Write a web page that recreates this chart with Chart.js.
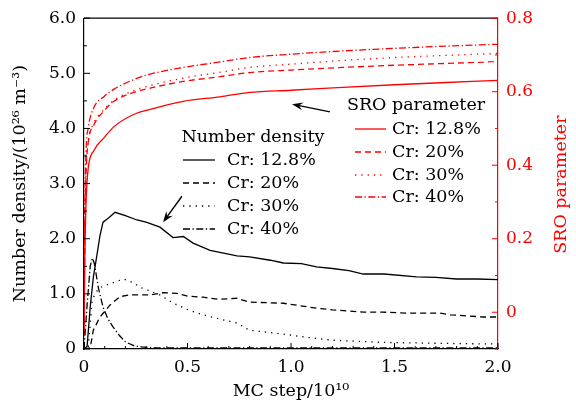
<!DOCTYPE html>
<html><head><meta charset="utf-8">
<script src="https://cdn.jsdelivr.net/npm/chart.js@4/dist/chart.umd.min.js"></script>
<style>html,body{margin:0;padding:0;background:#fff}</style>
</head><body>
<canvas id="c" width="576" height="403" style="width:576px;height:403px;display:block"></canvas>
<script>
const FONT = "'DejaVu Serif', serif";
const FS = 17.5;
const TFS = 17;

// ---- Number density (left axis, 10^26 m^-3) ----
const ndX128 = [0, 0.015, 0.03, 0.045, 0.061, 0.077, 0.092, 0.12, 0.15, 0.2, 0.256, 0.3, 0.367, 0.43, 0.48, 0.527, 0.609, 0.739, 0.8, 0.9, 0.963, 1.05, 1.124, 1.2, 1.28, 1.349, 1.45, 1.607, 1.7, 1.8, 1.9, 2.0];
const nd128  = [0, 0.05, 0.76, 1.3, 1.67, 2.05, 2.3, 2.38, 2.48, 2.42, 2.34, 2.30, 2.21, 2.02, 2.04, 1.92, 1.79, 1.69, 1.67, 1.61, 1.56, 1.55, 1.49, 1.46, 1.42, 1.36, 1.36, 1.31, 1.30, 1.27, 1.27, 1.26];
const ndX20  = [0, 0.03, 0.045, 0.077, 0.1, 0.126, 0.174, 0.22, 0.319, 0.38, 0.449, 0.5, 0.575, 0.65, 0.739, 0.8, 0.963, 1.124, 1.2, 1.35, 1.44, 1.57, 1.72, 1.77, 1.93, 2.0];
const nd20   = [0, 0.02, 0.34, 0.58, 0.68, 0.80, 0.95, 0.98, 0.98, 1.02, 1.01, 0.96, 0.94, 0.90, 0.92, 0.85, 0.83, 0.74, 0.71, 0.67, 0.67, 0.65, 0.65, 0.62, 0.58, 0.58];
const ndX30  = [0, 0.02, 0.04, 0.07, 0.1, 0.14, 0.19, 0.24, 0.27, 0.32, 0.367, 0.41, 0.449, 0.51, 0.575, 0.65, 0.739, 0.8, 0.963, 1.08, 1.2, 1.32, 1.44, 1.6, 1.77, 2.0];
const nd30   = [0, 0.0, 0.9, 1.1, 1.15, 1.2, 1.27, 1.2, 1.12, 1.05, 0.98, 0.88, 0.80, 0.70, 0.62, 0.55, 0.47, 0.34, 0.27, 0.21, 0.16, 0.14, 0.12, 0.11, 0.10, 0.09];
const ndX40  = [0, 0.015, 0.03, 0.04, 0.05, 0.07, 0.092, 0.115, 0.14, 0.17, 0.2, 0.24, 0.27, 0.35, 0.5, 1.0, 1.5, 2.0];
const nd40   = [0, 0.8, 1.5, 1.65, 1.55, 1.1, 0.76, 0.55, 0.40, 0.25, 0.13, 0.06, 0.04, 0.02, 0.02, 0.02, 0.02, 0.02];

// ---- SRO parameter (right axis) ----
const sroX   = [0, 0.004, 0.01, 0.02, 0.048, 0.097, 0.145, 0.24, 0.32, 0.48, 0.657, 0.8, 1.0, 1.25, 1.5, 1.75, 2.0];
const sro128 = [-0.06, 0.15, 0.30, 0.39, 0.44, 0.475, 0.505, 0.538, 0.552, 0.574, 0.586, 0.598, 0.604, 0.612, 0.619, 0.625, 0.631];
const sro20  = [-0.06, 0.22, 0.38, 0.46, 0.51, 0.548, 0.574, 0.598, 0.610, 0.628, 0.641, 0.652, 0.659, 0.666, 0.672, 0.677, 0.682];
const sro30  = [-0.06, 0.22, 0.38, 0.46, 0.515, 0.552, 0.577, 0.603, 0.617, 0.637, 0.653, 0.666, 0.675, 0.685, 0.693, 0.699, 0.704];
const sro40  = [-0.06, 0.28, 0.44, 0.50, 0.557, 0.587, 0.607, 0.633, 0.648, 0.666, 0.681, 0.693, 0.702, 0.711, 0.718, 0.724, 0.729];

const seriesLabels = ['Cr: 12.8%', 'Cr: 20%', 'Cr: 30%', 'Cr: 40%'];
const xTickLabels = ['0', '0.5', '1.0', '1.5', '2.0'];
const yTickLabels = ['0', '1.0', '2.0', '3.0', '4.0', '5.0', '6.0'];
const y1TickLabels = ['0', '0.2', '0.4', '0.6', '0.8'];

const DASHES = [[], [6, 4], [1.3, 5], [7, 2.5, 1.3, 2.5]];
const RED = '#ff0000';

function pts(xs, ys) { return xs.map((x, i) => ({x: x, y: ys[i]})); }

const ndSets = [[ndX128, nd128], [ndX20, nd20], [ndX30, nd30], [ndX40, nd40]];
const sroSets = [sro128, sro20, sro30, sro40];

const datasets = [];
ndSets.forEach((s, i) => datasets.push({
  label: 'ND ' + seriesLabels[i], data: pts(s[0], s[1]), yAxisID: 'y',
  borderColor: '#000', borderWidth: 1.3, borderDash: DASHES[i], pointRadius: 0, tension: 0, fill: false
}));
sroSets.forEach((s, i) => datasets.push({
  label: 'SRO ' + seriesLabels[i], data: pts(sroX, s), yAxisID: 'y1',
  borderColor: RED, borderWidth: 1.3, borderDash: DASHES[i], pointRadius: 0, cubicInterpolationMode: 'monotone', fill: false
}));

function near(v, list) { return list.find(l => Math.abs(parseFloat(l) - v) < 1e-6); }

const deco = {
  id: 'deco',
  afterDatasetsDraw(chart) {
    const ctx = chart.ctx, ca = chart.chartArea;
    const sx = chart.scales.x, sy = chart.scales.y, sy1 = chart.scales.y1;
    ctx.save();
    // top spine
    ctx.strokeStyle = '#000'; ctx.lineWidth = 1.2;
    ctx.beginPath(); ctx.moveTo(ca.left, ca.top); ctx.lineTo(ca.right, ca.top); ctx.stroke();
    // inward ticks
    function tick(x1, y1, x2, y2, col) { ctx.strokeStyle = col; ctx.beginPath(); ctx.moveTo(x1, y1); ctx.lineTo(x2, y2); ctx.stroke(); }
    ctx.lineWidth = 1;
    for (let i = 0; i <= 20; i++) {
      const v = i / 10, px = sx.getPixelForValue(v);
      const major = i % 5 === 0;
      tick(px, ca.bottom, px, ca.bottom - (major ? 6 : 3), '#000');
    }
    for (let i = 0; i <= 12; i++) {
      const v = i / 2, py = sy.getPixelForValue(v);
      tick(ca.left, py, ca.left + (i % 2 === 0 ? 6 : 3), py, '#000');
    }
    for (let i = -1; i <= 8; i++) {
      const v = i / 10, py = sy1.getPixelForValue(v);
      tick(ca.right, py, ca.right - (i % 2 === 0 ? 6 : 3), py, RED);
    }
    // axis titles
    ctx.fillStyle = '#000'; ctx.font = FS + 'px ' + FONT;
    ctx.textAlign = 'center'; ctx.textBaseline = 'middle';
    ctx.save(); ctx.translate(20, (ca.top + ca.bottom) / 2); ctx.rotate(-Math.PI / 2);
    ctx.fillText('Number density/(10²⁶ m⁻³)', 0, 0); ctx.restore();
    ctx.save(); ctx.fillStyle = RED; ctx.translate(561, (ca.top + ca.bottom) / 2 + 1); ctx.rotate(-Math.PI / 2);
    ctx.fillText('SRO parameter', 0, 0); ctx.restore();
    ctx.fillText('MC step/10¹⁰', (ca.left + ca.right) / 2, 391);
    // legends
    function legend(title, tx, ty, sx0, sx1, textX, rowY, color) {
      ctx.fillStyle = '#000'; ctx.textAlign = 'center'; ctx.fillText(title, tx, ty);
      ctx.textAlign = 'left';
      rowY.forEach((y, i) => {
        ctx.strokeStyle = color; ctx.lineWidth = 1.3; ctx.setLineDash(DASHES[i]);
        ctx.beginPath(); ctx.moveTo(sx0, y); ctx.lineTo(sx1, y); ctx.stroke(); ctx.setLineDash([]);
        ctx.fillStyle = '#000'; ctx.fillText(seriesLabels[i], textX, y);
      });
    }
    legend('Number density', 253, 137, 183, 215, 227, [160, 183, 206, 229], '#000');
    legend('SRO parameter', 416, 105, 355, 386, 392, [129, 152, 175, 197], RED);
    // arrows (data coords)
    function arrow(x0, y0, x1, y1) {
      const a = sx.getPixelForValue(x0), b = sy.getPixelForValue(y0);
      const c = sx.getPixelForValue(x1), d = sy.getPixelForValue(y1);
      const ang = Math.atan2(d - b, c - a), L = 11, W = 4;
      ctx.strokeStyle = '#000'; ctx.fillStyle = '#000'; ctx.lineWidth = 1.4;
      ctx.beginPath(); ctx.moveTo(a, b); ctx.lineTo(c - Math.cos(ang) * 6, d - Math.sin(ang) * 6); ctx.stroke();
      ctx.beginPath(); ctx.moveTo(c, d);
      ctx.lineTo(c - L * Math.cos(ang) + W * Math.sin(ang), d - L * Math.sin(ang) - W * Math.cos(ang));
      ctx.lineTo(c - 7 * Math.cos(ang), d - 7 * Math.sin(ang));
      ctx.lineTo(c - L * Math.cos(ang) - W * Math.sin(ang), d - L * Math.sin(ang) + W * Math.cos(ang));
      ctx.closePath(); ctx.fill();
    }
    arrow(1.188, 4.30, 1.005, 4.44);
    arrow(0.473, 2.77, 0.382, 2.30);
    ctx.restore();
  }
};

new Chart(document.getElementById('c'), {
  type: 'line',
  data: { datasets: datasets },
  options: {
    responsive: false, animation: false, devicePixelRatio: 1,
    layout: { padding: { top: 18, left: 0, right: 0, bottom: 0 } },
    plugins: { legend: { display: false }, tooltip: { enabled: false } },
    scales: {
      x: {
        type: 'linear', min: 0, max: 2.0,
        grid: { display: false, drawTicks: false },
        border: { display: true, color: '#000', width: 1.2 },
        ticks: { stepSize: 0.5, padding: 8, color: '#000', font: { family: FONT, size: TFS },
          maxRotation: 0, autoSkip: false,
          callback: v => near(v, xTickLabels) !== undefined ? near(v, xTickLabels) : '' },
        afterFit: s => { s.height = 54; }
      },
      y: {
        type: 'linear', position: 'left', min: 0, max: 6,
        grid: { display: false, drawTicks: false },
        border: { display: true, color: '#000', width: 1.2 },
        ticks: { stepSize: 1, padding: 8, color: '#000', font: { family: FONT, size: TFS },
          callback: v => near(v, yTickLabels) !== undefined ? near(v, yTickLabels) : '' },
        afterFit: s => { s.width = 84; }
      },
      y1: {
        type: 'linear', position: 'right', min: -0.1, max: 0.8,
        grid: { display: false, drawTicks: false },
        border: { display: true, color: RED, width: 1.2 },
        ticks: { stepSize: 0.1, padding: 8, color: RED, font: { family: FONT, size: TFS }, autoSkip: false,
          callback: v => { const m = near(v, y1TickLabels); return m !== undefined ? m : ''; } },
        afterFit: s => { s.width = 78; }
      }
    }
  },
  plugins: [deco]
});
</script>
</body></html>
